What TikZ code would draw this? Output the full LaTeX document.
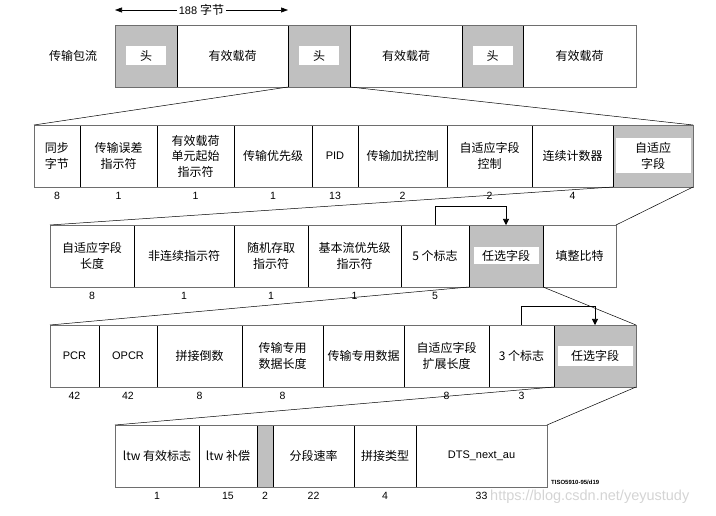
\documentclass[tikz,border=0pt]{standalone}
\usepackage{fontspec}
\setmainfont{Liberation Sans}
\newfontfamily\cjk{Noto Sans CJK SC}
\usetikzlibrary{
  arrows.meta,
  positioning,
  calc
}
\definecolor{HeadGray}{RGB}{192,192,192}
\definecolor{FrameGray}{RGB}{110,110,110}
\definecolor{MarkGray}{RGB}{212,212,212}
\newcommand{\cjkfont}{\cjk\fontsize{12}{15.5}\selectfont}
\newcommand{\latfont}{\normalfont\fontsize{11}{14}\selectfont}
\tikzset{
  cell/.style={
    draw=black,
    fill=white,
    line width=0.6pt,
    minimum height=62pt,
    inner sep=0pt,
    outer sep=0pt,
    align=center,
    font=\cjkfont
  },
  latcell/.style={cell,font=\latfont},
  headcell/.style={cell,fill=HeadGray},
  inbox/.style={fill=white,inner sep=0pt,align=center,font=\cjkfont},
  bitnum/.style={font=\fontsize{10.5}{12}\selectfont,inner sep=0pt},
  rowframe/.style={draw=FrameGray,line width=0.8pt},
  zoomline/.style={draw=black,line width=0.5pt},
  flagarrow/.style={-{Triangle[length=6pt,width=6pt]},line width=0.6pt},
  sizearrow/.style={{Triangle[length=7pt,width=5pt]}-{Triangle[length=7pt,width=5pt]},line width=0.6pt}
}

\begin{document}
\begin{tikzpicture}[x=1pt,y=-1pt]
  \useasboundingbox (0,0) rectangle (716,516);

  % transport packet stream
  \node[font=\cjkfont] (stream) at (73,56) {传输包流};
  \node[headcell, minimum width=62pt, anchor=north west] (hd1) at (115,25) {};
  \node[cell, minimum width=111pt, right=0pt of hd1] (pay1) {有效载荷};
  \node[headcell, minimum width=62pt, right=0pt of pay1] (hd2) {};
  \node[cell, minimum width=112pt, right=0pt of hd2] (pay2) {有效载荷};
  \node[headcell, minimum width=61pt, right=0pt of pay2] (hd3) {};
  \node[cell, minimum width=113pt, right=0pt of hd3] (pay3) {有效载荷};
  \node[inbox, minimum width=40pt, minimum height=19pt] (hd1t) at (hd1) {头};
  \node[inbox, minimum width=40pt, minimum height=19pt] (hd2t) at (hd2) {头};
  \node[inbox, minimum width=40pt, minimum height=19pt] (hd3t) at (hd3) {头};
  \draw[rowframe] (hd1.north west) rectangle (pay3.south east);
  \draw[sizearrow] ($(hd1.north west)+(0,-15)$) -- node[fill=white, inner sep=1.5pt] (bytes) {{\latfont 188 }{\cjkfont 字节}} ($(hd2.north west)+(0,-15)$);

  % packet header
  \node[cell, minimum width=46pt, anchor=north west] (sync) at (34,125) {同步\\字节};
  \node[cell, minimum width=77pt, right=0pt of sync] (tei) {传输误差\\指示符};
  \node[cell, minimum width=77pt, right=0pt of tei] (pusi) {有效载荷\\单元起始\\指示符};
  \node[cell, minimum width=78pt, right=0pt of pusi] (prio) {传输优先级};
  \node[latcell, minimum width=46pt, right=0pt of prio] (pid) {PID};
  \node[cell, minimum width=89pt, right=0pt of pid] (tsc) {传输加扰控制};
  \node[cell, minimum width=85pt, right=0pt of tsc] (afc) {自适应字段\\控制};
  \node[cell, minimum width=81pt, right=0pt of afc] (cc) {连续计数器};
  \node[headcell, minimum width=80pt, right=0pt of cc] (af) {};
  \node[inbox, minimum width=75pt, minimum height=35pt] (aft) at (af) {自适应\\字段};
  \draw[rowframe] (sync.north west) rectangle (af.south east);
  \node[bitnum, below=5pt of sync] (nsync) {8};
  \node[bitnum, below=5pt of tei] (ntei) {1};
  \node[bitnum, below=5pt of pusi] (npusi) {1};
  \node[bitnum, below=5pt of prio] (nprio) {1};
  \node[bitnum, below=5pt of pid] (npid) {13};
  \node[bitnum, below=5pt of tsc] (ntsc) {2};
  \node[bitnum, below=5pt of afc] (nafc) {2};
  \node[bitnum, below=5pt of cc] (ncc) {4};

  % adaptation field
  \node[cell, minimum width=84pt, anchor=north west] (aflen) at (50,225) {自适应字段\\长度};
  \node[cell, minimum width=100pt, right=0pt of aflen] (disc) {非连续指示符};
  \node[cell, minimum width=74pt, right=0pt of disc] (rai) {随机存取\\指示符};
  \node[cell, minimum width=93pt, right=0pt of rai] (espi) {基本流优先级\\指示符};
  \node[cell, minimum width=68pt, right=0pt of espi] (flags5) {5 个标志};
  \node[headcell, minimum width=74pt, right=0pt of flags5] (opt1) {};
  \node[cell, minimum width=73pt, right=0pt of opt1] (stuff) {填整比特};
  \node[inbox, minimum width=65pt, minimum height=17pt] (opt1t) at (opt1) {任选字段};
  \draw[rowframe] (aflen.north west) rectangle (stuff.south east);
  \node[bitnum, below=5pt of aflen] (naflen) {8};
  \node[bitnum, below=5pt of disc] (ndisc) {1};
  \node[bitnum, below=5pt of rai] (nrai) {1};
  \node[bitnum, below=5pt of espi] (nespi) {1};
  \node[bitnum, below=5pt of flags5] (nflags5) {5};

  % optional fields
  \node[latcell, minimum width=49pt, anchor=north west] (pcr) at (50,325) {PCR};
  \node[latcell, minimum width=58pt, right=0pt of pcr] (opcr) {OPCR};
  \node[cell, minimum width=85pt, right=0pt of opcr] (splice) {拼接倒数};
  \node[cell, minimum width=81pt, right=0pt of splice] (tpdlen) {传输专用\\数据长度};
  \node[cell, minimum width=81pt, right=0pt of tpdlen] (tpd) {传输专用数据};
  \node[cell, minimum width=85pt, right=0pt of tpd] (afxlen) {自适应字段\\扩展长度};
  \node[cell, minimum width=65pt, right=0pt of afxlen] (flags3) {3 个标志};
  \node[headcell, minimum width=82pt, right=0pt of flags3] (opt2) {};
  \node[inbox, minimum width=75pt, minimum height=20pt] (opt2t) at (opt2) {任选字段};
  \draw[rowframe] (pcr.north west) rectangle (opt2.south east);
  \node[bitnum, below=5pt of pcr] (npcr) {42};
  \node[bitnum, below=5pt of opcr] (nopcr) {42};
  \node[bitnum, below=5pt of splice] (nsplice) {8};
  \node[bitnum, below=5pt of tpdlen] (ntpdlen) {8};
  \node[bitnum, below=5pt of afxlen] (nafxlen) {8};
  \node[bitnum, below=5pt of flags3] (nflags3) {3};

  % extension fields
  \node[cell, minimum width=84pt, anchor=north west] (ltwv) at (115,425) {ltw 有效标志};
  \node[cell, minimum width=58pt, right=0pt of ltwv] (ltwo) {ltw 补偿};
  \node[headcell, minimum width=16pt, right=0pt of ltwo] (rsv) {};
  \node[cell, minimum width=81pt, right=0pt of rsv] (rate) {分段速率};
  \node[cell, minimum width=62pt, right=0pt of rate] (stype) {拼接类型};
  \node[latcell, minimum width=131pt, right=0pt of stype] (dts) {DTS\_next\_au};
  \draw[rowframe] (ltwv.north west) rectangle (dts.south east);
  \node[bitnum, below=5pt of ltwv] (nltwv) {1};
  \node[bitnum, below=5pt of ltwo] (nltwo) {15};
  \node[bitnum, below=5pt of rsv] (nrsv) {2};
  \node[bitnum, below=5pt of rate] (nrate) {22};
  \node[bitnum, below=5pt of stype] (nstype) {4};
  \node[bitnum, below=5pt of dts] (ndts) {33};
  \node[anchor=west, inner sep=0pt, font=\fontsize{6}{7}\selectfont\bfseries] (tag) at (551,482) {TISO5910-95/d19};
  \node[anchor=west, inner sep=0pt, text=MarkGray, font=\fontsize{14.5}{16}\selectfont] (mark) at (490,497) {https://blog.csdn.net/yeyustudy};

  \draw[zoomline] (hd2.south west) -- (sync.north west);
  \draw[zoomline] (hd2.south east) -- (af.north east);
  \draw[zoomline] (af.south west) -- (aflen.north west);
  \draw[zoomline] (af.south east) -- (stuff.north east);
  \draw[zoomline] (opt1.south west) -- (pcr.north west);
  \draw[zoomline] (opt1.south east) -- (opt2.north east);
  \draw[zoomline] (opt2.south west) -- (ltwv.north west);
  \draw[zoomline] (opt2.south east) -- (dts.north east);

  \draw[flagarrow] (flags5.north) -- ++(0,-19) -| (opt1.north);
  \draw[flagarrow] (flags3.north) -- ++(0,-19) -| (opt2.north);
\end{tikzpicture}
\end{document}
